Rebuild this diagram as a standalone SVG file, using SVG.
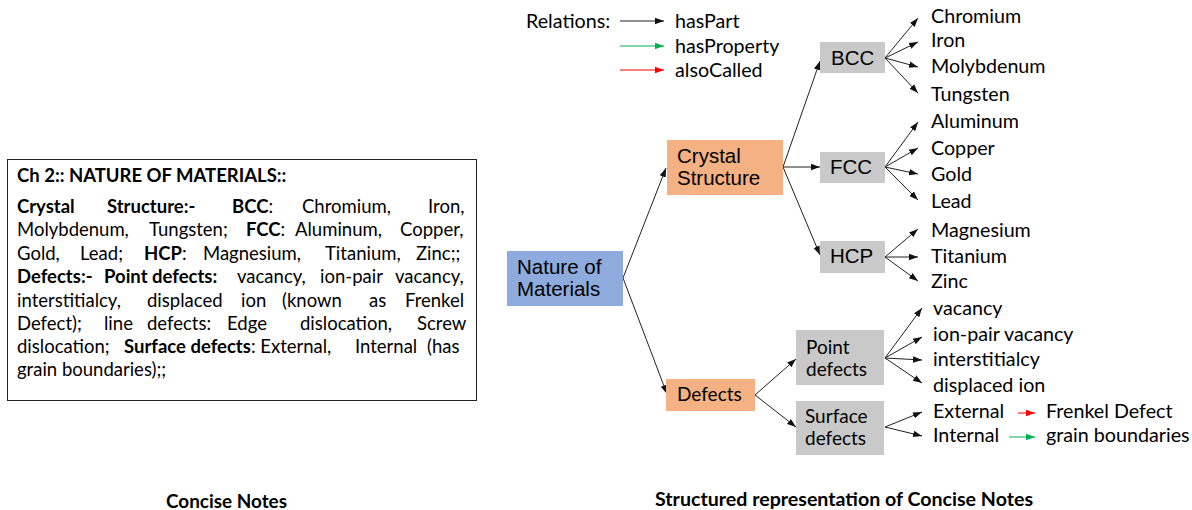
<svg xmlns="http://www.w3.org/2000/svg" width="1192" height="510" viewBox="0 0 1192 510">
<style>
.c{font-family:Lato,"Open Sans","Liberation Sans",sans-serif;fill:#000}
.a{font-family:"Liberation Sans",Arial,sans-serif;fill:#000;font-size:20.5px}
.lf{font-size:19.7px}
.bx{font-size:18.5px}
.b{font-weight:bold}
.e{stroke:#222;stroke-width:1;fill:none;marker-end:url(#mk)}
.g{stroke:#00b050;stroke-width:1;fill:none;marker-end:url(#mg)}
.r{stroke:#ff0000;stroke-width:1;fill:none;marker-end:url(#mr)}
</style>
<defs>
<marker id="mk" markerUnits="userSpaceOnUse" markerWidth="10" markerHeight="8" refX="9" refY="4" orient="auto"><path d="M0,0.8L9,4L0,7.2z" fill="#111"/></marker>
<marker id="mg" markerUnits="userSpaceOnUse" markerWidth="10" markerHeight="8" refX="9" refY="4" orient="auto"><path d="M0,0.8L9,4L0,7.2z" fill="#00b050"/></marker>
<marker id="mr" markerUnits="userSpaceOnUse" markerWidth="10" markerHeight="8" refX="9" refY="4" orient="auto"><path d="M0,0.8L9,4L0,7.2z" fill="#ff0000"/></marker>
</defs>
<rect width="1192" height="510" fill="#fff"/>

<g id="notes">
<rect x="7.5" y="159.5" width="469" height="241" fill="#fff" stroke="#222" stroke-width="1"/>
<text class="c bx b" x="17" y="182">Ch 2:: NATURE OF MATERIALS::</text>
<text class="c bx" y="213"><tspan class="b" x="17">Crystal</tspan><tspan class="b" x="107">Structure:-</tspan><tspan class="b" x="232">BCC</tspan><tspan>:</tspan><tspan x="302">Chromium,</tspan><tspan x="428">Iron,</tspan></text>
<text class="c bx" y="236"><tspan x="17">Molybdenum,</tspan><tspan x="149">Tungsten;</tspan><tspan class="b" x="246">FCC</tspan><tspan>:</tspan><tspan x="295">Aluminum,</tspan><tspan x="400">Copper,</tspan></text>
<text class="c bx" y="260"><tspan x="17">Gold,</tspan><tspan x="80">Lead;</tspan><tspan class="b" x="144">HCP</tspan><tspan>:</tspan><tspan x="203">Magnesium,</tspan><tspan x="325">Titanium,</tspan><tspan x="416">Zinc;;</tspan></text>
<text class="c bx" y="283"><tspan class="b" x="17">Defects:-</tspan><tspan class="b" x="104">Point defects:</tspan><tspan x="237">vacancy,</tspan><tspan x="320">ion-pair</tspan><tspan x="395">vacancy,</tspan></text>
<text class="c bx" y="307"><tspan x="17">interstitialcy,</tspan><tspan x="147">displaced</tspan><tspan x="241">ion</tspan><tspan x="282">(known</tspan><tspan x="369">as</tspan><tspan x="405">Frenkel</tspan></text>
<text class="c bx" y="330"><tspan x="17">Defect);</tspan><tspan x="104">line</tspan><tspan x="147">defects:</tspan><tspan x="227">Edge</tspan><tspan x="300">dislocation,</tspan><tspan x="417">Screw</tspan></text>
<text class="c bx" y="353"><tspan x="17">dislocation;</tspan><tspan class="b" x="124">Surface defects</tspan><tspan>: External,</tspan><tspan x="355">Internal</tspan><tspan x="427">(has</tspan></text>
<text class="c bx" x="17" y="376">grain boundaries);;</text>
</g>

<g id="legend">
<text class="c lf" x="526" y="28">Relations:</text>
<line class="e" x1="620" y1="21" x2="664" y2="21"/>
<text class="c lf" x="675" y="28">hasPart</text>
<line class="g" x1="620" y1="46" x2="664" y2="46"/>
<text class="c lf" x="675" y="53">hasProperty</text>
<line class="r" x1="620" y1="70" x2="664" y2="70"/>
<text class="c lf" x="675" y="77">alsoCalled</text>
</g>

<g id="connectors">
<line class="e" x1="623" y1="278" x2="666" y2="168"/>
<line class="e" x1="623" y1="278" x2="667" y2="394"/>
<line class="e" x1="783" y1="167" x2="820" y2="61"/>
<line class="e" x1="783" y1="167" x2="820" y2="167"/>
<line class="e" x1="783" y1="167" x2="820" y2="255"/>
<line class="e" x1="885" y1="58" x2="918" y2="18"/>
<line class="e" x1="885" y1="58" x2="918" y2="42"/>
<line class="e" x1="885" y1="58" x2="918" y2="67"/>
<line class="e" x1="885" y1="58" x2="918" y2="93"/>
<line class="e" x1="885" y1="167" x2="918" y2="122"/>
<line class="e" x1="885" y1="167" x2="918" y2="148"/>
<line class="e" x1="885" y1="167" x2="918" y2="174"/>
<line class="e" x1="885" y1="167" x2="918" y2="200"/>
<line class="e" x1="885" y1="257" x2="918" y2="229"/>
<line class="e" x1="885" y1="257" x2="918" y2="257"/>
<line class="e" x1="885" y1="257" x2="918" y2="281"/>
<line class="e" x1="755" y1="395" x2="796" y2="359"/>
<line class="e" x1="755" y1="395" x2="796" y2="427"/>
<line class="e" x1="885" y1="358" x2="922" y2="308"/>
<line class="e" x1="885" y1="358" x2="922" y2="337"/>
<line class="e" x1="885" y1="358" x2="922" y2="360"/>
<line class="e" x1="885" y1="358" x2="922" y2="383"/>
<line class="e" x1="885" y1="427" x2="922" y2="412"/>
<line class="e" x1="885" y1="427" x2="922" y2="436"/>
<line class="r" x1="1018" y1="413" x2="1035" y2="413"/>
<line class="g" x1="1009" y1="437" x2="1035" y2="437"/>
</g>

<g id="n-nature"><rect x="507" y="251" width="116" height="55" fill="#8faadc"/><text class="a" x="517" y="274">Nature of</text><text class="a" x="517" y="296">Materials</text></g>
<g id="n-crystal"><rect x="667" y="140" width="116" height="55" fill="#f4b183"/><text class="a" x="677" y="163">Crystal</text><text class="a" x="677" y="185">Structure</text></g>
<g id="n-defects"><rect x="666" y="379" width="89" height="32" fill="#f4b183"/><text class="c" style="font-size:19px" x="677" y="401">Defects</text></g>
<g id="n-bcc"><rect x="820" y="42" width="65" height="31" fill="#c9c9c9"/><text class="a" x="831" y="65">BCC</text></g>
<g id="n-fcc"><rect x="820" y="152" width="65" height="31" fill="#c9c9c9"/><text class="a" x="830" y="174">FCC</text></g>
<g id="n-hcp"><rect x="820" y="241" width="65" height="32" fill="#c9c9c9"/><text class="a" x="830" y="263">HCP</text></g>
<g id="n-point"><rect x="796" y="330" width="88" height="55" fill="#c9c9c9"/><text class="c" style="font-size:19px" x="806" y="354">Point</text><text class="c" style="font-size:19px" x="806" y="376">defects</text></g>
<g id="n-surface"><rect x="796" y="401" width="88" height="54" fill="#c9c9c9"/><text class="c" style="font-size:19px" x="805" y="423">Surface</text><text class="c" style="font-size:19px" x="805" y="445">defects</text></g>

<g id="leaves">
<text class="c lf" x="931" y="23">Chromium</text>
<text class="c lf" x="931" y="47">Iron</text>
<text class="c lf" x="931" y="73">Molybdenum</text>
<text class="c lf" x="931" y="101">Tungsten</text>
<text class="c lf" x="931" y="128">Aluminum</text>
<text class="c lf" x="931" y="155">Copper</text>
<text class="c lf" x="931" y="181">Gold</text>
<text class="c lf" x="931" y="208">Lead</text>
<text class="c lf" x="931" y="237">Magnesium</text>
<text class="c lf" x="931" y="263">Titanium</text>
<text class="c lf" x="931" y="288">Zinc</text>
<text class="c lf" x="933" y="315">vacancy</text>
<text class="c lf" x="933" y="341">ion-pair vacancy</text>
<text class="c lf" x="933" y="366">interstitialcy</text>
<text class="c lf" x="933" y="392">displaced ion</text>
<text class="c lf" x="933" y="418">External</text>
<text class="c lf" x="933" y="442">Internal</text>
<text class="c lf" x="1046" y="418">Frenkel Defect</text>
<text class="c lf" x="1046" y="442">grain boundaries</text>
</g>

<g id="captions">
<text class="c b" style="font-size:19px" x="166" y="508" textLength="121" lengthAdjust="spacingAndGlyphs">Concise Notes</text>
<text class="c b" style="font-size:19px" x="655" y="506" textLength="378" lengthAdjust="spacingAndGlyphs">Structured representation of Concise Notes</text>
</g>
</svg>
